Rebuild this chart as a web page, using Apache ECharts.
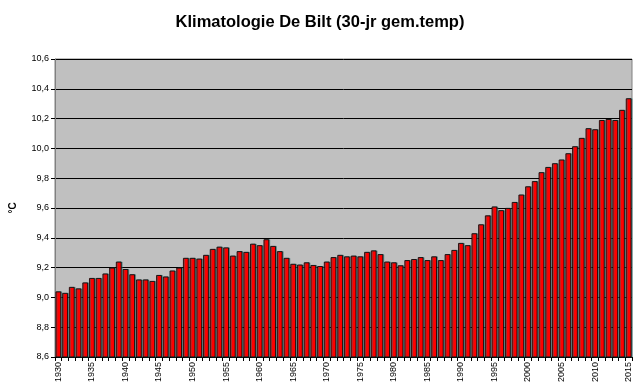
<!DOCTYPE html>
<html><head><meta charset="utf-8">
<script src="https://cdn.jsdelivr.net/npm/echarts@6/dist/echarts.min.js"></script>
<style>html,body{margin:0;padding:0;background:#fff}#c{width:640px;height:391px}</style>
</head><body><div id="c"></div>
<script>
const years = [];
for (let y = 1930; y <= 2015; y++) years.push(String(y));
const temps = [
  9.04, 9.03, 9.07, 9.06, 9.10, 9.13, 9.13, 9.16, 9.20, 9.24,
  9.19, 9.155, 9.12, 9.12, 9.11, 9.15, 9.14, 9.18, 9.20, 9.265,
  9.265, 9.26, 9.285, 9.325, 9.34, 9.335, 9.28, 9.31, 9.305, 9.36,
  9.35, 9.39, 9.345, 9.31, 9.265, 9.225, 9.22, 9.235, 9.217, 9.21,
  9.24, 9.27, 9.285, 9.275, 9.28, 9.275, 9.305, 9.315, 9.29, 9.24,
  9.235, 9.215, 9.25, 9.257, 9.27, 9.25, 9.275, 9.25, 9.29, 9.318,
  9.365, 9.35, 9.43, 9.49, 9.55, 9.61, 9.585, 9.60, 9.64, 9.69,
  9.745, 9.78, 9.84, 9.875, 9.90, 9.925, 9.967, 10.014, 10.07, 10.135,
  10.128, 10.19, 10.197, 10.19, 10.258, 10.336
];
const chartTitle = 'Klimatologie De Bilt (30-jr gem.temp)';
const yName = '°C';

const chart = echarts.init(document.getElementById('c'));
chart.setOption({
  animation: false,
  title: {
    text: chartTitle, left: 'center', top: 9,
    textStyle: { fontFamily: 'Liberation Sans, Arial', fontSize: 16.5, fontWeight: 'bold', color: '#000' }
  },
  grid: {
    left: 51, right: 8, top: 59, bottom: 34, show: true,
    backgroundColor: '#c0c0c0', borderColor: '#808080', borderWidth: 1
  },
  xAxis: {
    type: 'category', data: years,
    axisLine: { lineStyle: { color: '#000' } },
    axisTick: { show: true, interval: 0, length: 4, lineStyle: { color: '#000' } },
    axisLabel: {
      interval: 4, rotate: 90, margin: 5,
      fontFamily: 'Liberation Sans, Arial', fontSize: 9, color: '#000'
    }
  },
  yAxis: {
    type: 'value', min: 8.6, max: 10.6, interval: 0.2,
    name: yName, nameLocation: 'middle', nameGap: 37, nameRotate: 90,
    nameTextStyle: { fontFamily: 'Liberation Sans, Arial', fontSize: 10, fontWeight: 'bold', color: '#000' },
    axisLine: { show: true, lineStyle: { color: '#808080' } },
    axisTick: { show: true, length: 4, lineStyle: { color: '#000' } },
    axisLabel: {
      fontFamily: 'Liberation Sans, Arial', fontSize: 9, color: '#000', margin: 6,
      formatter: v => v.toFixed(1).replace('.', ',')
    },
    splitLine: { lineStyle: { color: '#000', width: 1 } }
  },
  series: [{
    type: 'bar', data: temps, barCategoryGap: '16%',
    itemStyle: {
      color: '#ff0000', borderColor: '#000', borderWidth: 0.8,
      shadowColor: 'rgba(40,110,110,0.6)', shadowOffsetX: 1, shadowOffsetY: 0, shadowBlur: 0
    }
  }]
});
</script></body></html>
